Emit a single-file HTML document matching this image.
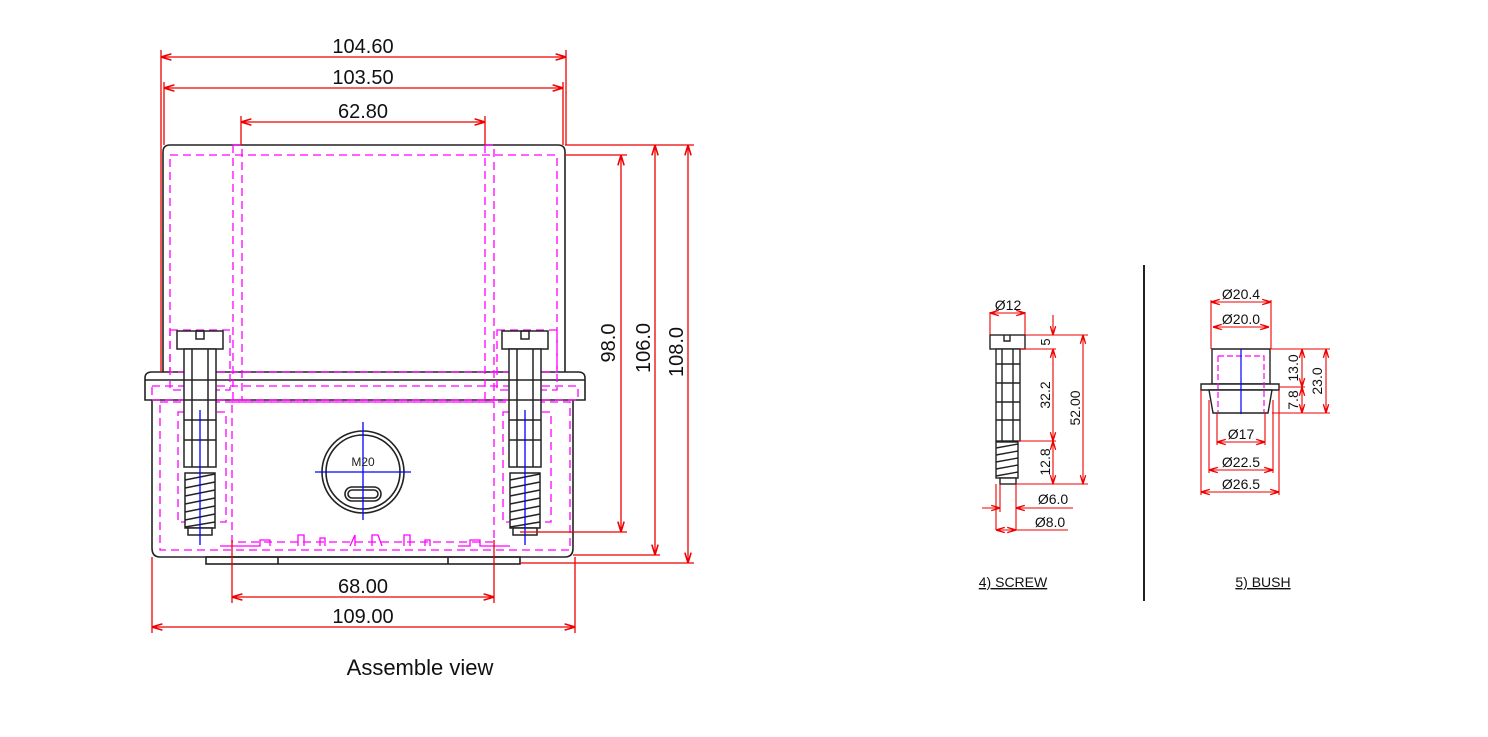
<!DOCTYPE html>
<html><head><meta charset="utf-8"><style>body{margin:0;background:#fff}svg{display:block}text{font-family:"Liberation Sans",sans-serif}</style></head><body>
<svg width="1488" height="737" viewBox="0 0 1488 737" xmlns="http://www.w3.org/2000/svg">
<defs>
<marker id="a" viewBox="0 0 10 10" refX="10" refY="5" markerWidth="8" markerHeight="8" orient="auto-start-reverse"><path d="M0,2 L10,5 L0,8" fill="none" stroke="#e00" stroke-width="1.5"/></marker>
</defs>
<g stroke="#222" stroke-width="1.6" fill="none">
<path d="M163,372 V152 Q163,145 170,145 H558 Q565,145 565,152 V372"/>
<path d="M145,400 V378 Q145,372 152,372 H578 Q585,372 585,378 V400 Z"/>
<line x1="145" y1="380" x2="585" y2="380"/>
<path d="M152,400 V548 Q152,557 160,557 H565 Q573,557 573,548 V400"/>
<rect x="206" y="557" width="314" height="7"/>
<line x1="278" y1="557" x2="278" y2="564"/><line x1="448" y1="557" x2="448" y2="564"/>
<circle cx="363" cy="472" r="41"/><circle cx="363" cy="472" r="37"/>
<rect x="345" y="487" width="36" height="14" rx="7"/><rect x="348" y="490" width="30" height="8" rx="4"/>
</g>
<g stroke="#f0f" stroke-width="1.3" fill="none" stroke-dasharray="8,5">
<rect x="170" y="155" width="387" height="217"/>
<rect x="233" y="145" width="9" height="255"/>
<rect x="485" y="145" width="9" height="255"/>
<rect x="152" y="386" width="426" height="14"/>
<rect x="160" y="402" width="410" height="148"/>
<rect x="232" y="402" width="262" height="140"/>
<rect x="178" y="412" width="48" height="110"/>
<rect x="503" y="412" width="48" height="110"/>
<rect x="170" y="330" width="60" height="60"/>
<rect x="497" y="330" width="60" height="60"/>
</g>
<g stroke="#f0f" stroke-width="1.3" fill="none">
<path d="M220,546 H260 V540 H270 V546 M298,546 V535 H304 V546 M320,546 V538 H325 V546 M350,546 L355,535 V546 M372,546 V535 H378 L382,546 M404,546 V535 H410 V546 M425,546 V540 H430 V546 M458,546 H470 V540 H480 V546 H510"/>
</g>
<g id="scr" stroke="#222" stroke-width="1.5" fill="#fff">
<rect x="177" y="331" width="46" height="18"/>
<rect x="196" y="331" width="8" height="8" fill="none"/>
<rect x="184" y="349" width="32" height="118"/>
<line x1="192" y1="349" x2="192" y2="467"/><line x1="208" y1="349" x2="208" y2="467"/>
<line x1="184" y1="380" x2="216" y2="380"/><line x1="184" y1="400" x2="216" y2="400"/><line x1="184" y1="420" x2="216" y2="420"/><line x1="184" y1="440" x2="216" y2="440"/>
<rect x="185" y="473" width="30" height="55"/>
<path d="M185,480 L215,474 M185,488 L215,482 M185,496 L215,490 M185,504 L215,498 M185,512 L215,506 M185,520 L215,514 M185,527 L215,522" fill="none"/>
<rect x="188" y="528" width="24" height="7"/>
<line x1="200" y1="410" x2="200" y2="545" stroke="#00f" stroke-width="1.3"/>
</g>
<use href="#scr" transform="translate(325,0)"/>
<g stroke="#00f" stroke-width="1.3"><line x1="315" y1="472" x2="411" y2="472"/><line x1="363" y1="422" x2="363" y2="520"/></g>
<text x="363" y="466" font-size="12" text-anchor="middle" fill="#222">M20</text>
<g stroke="#e00" stroke-width="1.3" fill="none">
<line x1="161" y1="50" x2="161" y2="372"/><line x1="566" y1="50" x2="566" y2="145"/>
<line x1="161" y1="57" x2="566" y2="57" marker-start="url(#a)" marker-end="url(#a)"/>
<line x1="164" y1="82" x2="164" y2="145"/><line x1="563" y1="82" x2="563" y2="145"/>
<line x1="164" y1="88" x2="563" y2="88" marker-start="url(#a)" marker-end="url(#a)"/>
<line x1="241" y1="116" x2="241" y2="145"/><line x1="485" y1="116" x2="485" y2="145"/>
<line x1="241" y1="122" x2="485" y2="122" marker-start="url(#a)" marker-end="url(#a)"/>
<line x1="565" y1="155" x2="627" y2="155"/><line x1="520" y1="532" x2="627" y2="532"/>
<line x1="621" y1="155" x2="621" y2="532" marker-start="url(#a)" marker-end="url(#a)"/>
<line x1="565" y1="145" x2="694" y2="145"/><line x1="573" y1="555" x2="660" y2="555"/><line x1="520" y1="563" x2="694" y2="563"/>
<line x1="655" y1="145" x2="655" y2="555" marker-start="url(#a)" marker-end="url(#a)"/>
<line x1="688" y1="145" x2="688" y2="563" marker-start="url(#a)" marker-end="url(#a)"/>
<line x1="232" y1="540" x2="232" y2="603"/><line x1="494" y1="540" x2="494" y2="603"/>
<line x1="232" y1="597" x2="494" y2="597" marker-start="url(#a)" marker-end="url(#a)"/>
<line x1="152" y1="557" x2="152" y2="633"/><line x1="575" y1="557" x2="575" y2="633"/>
<line x1="152" y1="627" x2="575" y2="627" marker-start="url(#a)" marker-end="url(#a)"/>
</g>
<g font-size="20" fill="#111" text-anchor="middle">
<text x="363" y="53">104.60</text><text x="363" y="84">103.50</text><text x="363" y="118">62.80</text>
<text x="363" y="593">68.00</text><text x="363" y="623">109.00</text>
<text transform="translate(615,343) rotate(-90)">98.0</text>
<text transform="translate(650,348) rotate(-90)">106.0</text>
<text transform="translate(683,352) rotate(-90)">108.0</text>
</g>
<text x="420" y="675" font-size="22" text-anchor="middle" fill="#111">Assemble view</text>
<line x1="1144" y1="265" x2="1144" y2="601" stroke="#222" stroke-width="2"/>
<g stroke="#222" stroke-width="1.4" fill="#fff">
<rect x="990" y="335" width="35" height="14"/>
<path d="M1004,335 V341 H1010 V335" fill="none"/>
<rect x="996" y="349" width="24" height="92"/>
<line x1="1002" y1="349" x2="1002" y2="441"/><line x1="1013" y1="349" x2="1013" y2="441"/>
<line x1="996" y1="364" x2="1020" y2="364"/><line x1="996" y1="383" x2="1020" y2="383"/><line x1="996" y1="402" x2="1020" y2="402"/><line x1="996" y1="420" x2="1020" y2="420"/>
<rect x="996" y="442" width="22" height="36"/>
<path d="M996,448 L1018,444 M996,455 L1018,451 M996,462 L1018,458 M996,469 L1018,465 M996,476 L1018,472" fill="none"/>
<rect x="1000" y="478" width="16" height="6"/>
<path d="M1212,349 H1270 V384 H1212 Z"/>
<path d="M1201,384 H1279 V390 H1201 Z"/>
<path d="M1209,390 H1272 L1268,413 H1213 Z"/>
</g>
<path d="M1218,356 H1264 V412 M1218,356 V412" stroke="#f0f" stroke-width="1.2" fill="none" stroke-dasharray="6,3"/>
<line x1="1241" y1="349" x2="1241" y2="414" stroke="#00f" stroke-width="1.2"/>
<g stroke="#e00" stroke-width="1.1" fill="none">
<line x1="990" y1="312" x2="990" y2="335"/><line x1="1025" y1="312" x2="1025" y2="335"/>
<line x1="990" y1="313" x2="1025" y2="313" marker-start="url(#a)" marker-end="url(#a)"/>
<line x1="1025" y1="335" x2="1088" y2="335"/><line x1="1020" y1="349" x2="1056" y2="349"/><line x1="1018" y1="441" x2="1056" y2="441"/><line x1="1016" y1="484" x2="1088" y2="484"/>
<line x1="1053" y1="315" x2="1053" y2="335" marker-end="url(#a)"/>
<line x1="1053" y1="349" x2="1053" y2="441" marker-start="url(#a)" marker-end="url(#a)"/>
<line x1="1053" y1="441" x2="1053" y2="484" marker-start="url(#a)" marker-end="url(#a)"/>
<line x1="1083" y1="335" x2="1083" y2="484" marker-start="url(#a)" marker-end="url(#a)"/>
<line x1="996" y1="484" x2="996" y2="530"/><line x1="1000" y1="484" x2="1000" y2="512"/><line x1="1016" y1="484" x2="1016" y2="530"/>
<line x1="982" y1="508" x2="1000" y2="508" marker-end="url(#a)"/><line x1="1016" y1="508" x2="1073" y2="508" marker-start="url(#a)"/>
<line x1="996" y1="530" x2="1016" y2="530" marker-start="url(#a)" marker-end="url(#a)"/><line x1="1016" y1="530" x2="1068" y2="530"/>
<line x1="1211" y1="300" x2="1211" y2="349"/><line x1="1271" y1="300" x2="1271" y2="349"/>
<line x1="1211" y1="302" x2="1271" y2="302" marker-start="url(#a)" marker-end="url(#a)"/>
<line x1="1213" y1="327" x2="1269" y2="327" marker-start="url(#a)" marker-end="url(#a)"/>
<line x1="1270" y1="349" x2="1330" y2="349"/><line x1="1279" y1="387" x2="1305" y2="387"/><line x1="1272" y1="413" x2="1330" y2="413"/>
<line x1="1302" y1="349" x2="1302" y2="387" marker-start="url(#a)" marker-end="url(#a)"/>
<line x1="1302" y1="387" x2="1302" y2="413" marker-start="url(#a)" marker-end="url(#a)"/>
<line x1="1326" y1="349" x2="1326" y2="413" marker-start="url(#a)" marker-end="url(#a)"/>
<line x1="1217" y1="413" x2="1217" y2="445"/><line x1="1265" y1="413" x2="1265" y2="445"/>
<line x1="1217" y1="442" x2="1265" y2="442" marker-start="url(#a)" marker-end="url(#a)"/>
<line x1="1209" y1="400" x2="1209" y2="473"/><line x1="1273" y1="400" x2="1273" y2="473"/>
<line x1="1209" y1="470" x2="1273" y2="470" marker-start="url(#a)" marker-end="url(#a)"/>
<line x1="1201" y1="390" x2="1201" y2="495"/><line x1="1279" y1="390" x2="1279" y2="495"/>
<line x1="1201" y1="492" x2="1279" y2="492" marker-start="url(#a)" marker-end="url(#a)"/>
</g>
<g font-size="14" fill="#111" text-anchor="middle">
<text x="1008" y="310">Ø12</text>
<text x="1053" y="504">Ø6.0</text><text x="1050" y="527">Ø8.0</text>
<text transform="translate(1050,342) rotate(-90)" font-size="13">5</text>
<text transform="translate(1050,395) rotate(-90)">32.2</text>
<text transform="translate(1050,462) rotate(-90)">12.8</text>
<text transform="translate(1080,408) rotate(-90)">52.00</text>
<text x="1241" y="299">Ø20.4</text><text x="1241" y="324">Ø20.0</text>
<text x="1241" y="439">Ø17</text><text x="1241" y="467">Ø22.5</text><text x="1241" y="489">Ø26.5</text>
<text transform="translate(1298,368) rotate(-90)">13.0</text>
<text transform="translate(1298,400) rotate(-90)">7.8</text>
<text transform="translate(1322,381) rotate(-90)">23.0</text>
<text x="1013" y="587" text-decoration="underline">4) SCREW</text>
<text x="1263" y="587" text-decoration="underline">5) BUSH</text>
</g>
</svg>
</body></html>
